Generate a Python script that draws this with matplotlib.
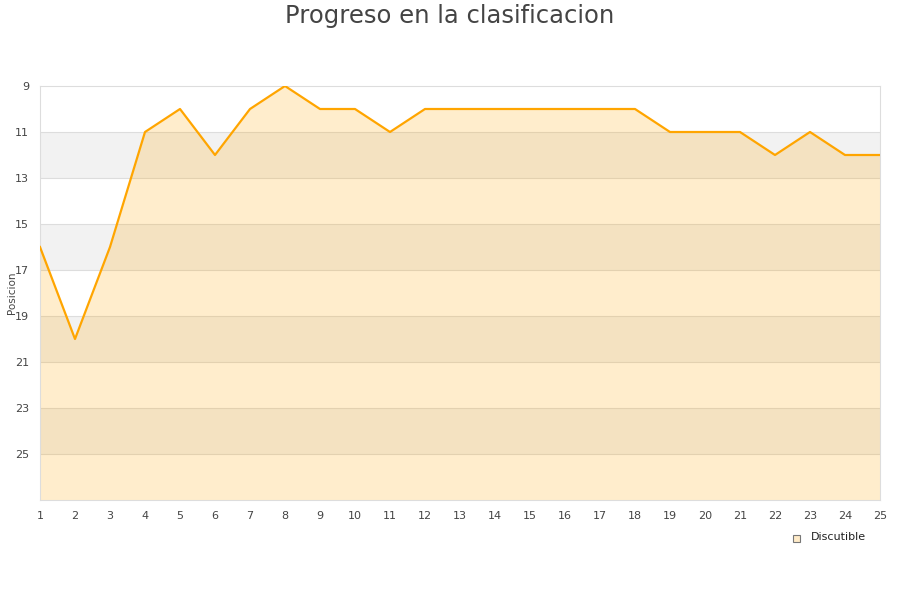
import matplotlib.pyplot as plt

jornadas = list(range(1, 26))
posicion = [16, 20, 16, 11, 10, 12, 10, 9, 10, 10, 11, 10, 10, 10, 10, 10, 10, 10, 11, 11, 11, 12, 11, 12, 12]
yticks = [9, 11, 13, 15, 17, 19, 21, 23, 25]

fig = plt.figure(figsize=(9, 6), dpi=100)
ax = fig.add_axes([40/900, 100/600, 840/900, 414/600])

# bandas alternas
for y0 in [11, 15, 19, 23]:
    ax.axhspan(y0, y0 + 2, color='#f2f2f2', zorder=0, lw=0)
for y in yticks[1:]:
    ax.axhline(y, color='#dddddd', lw=0.8, zorder=1)

ax.fill_between(jornadas, posicion, 27, color='#ffa500', alpha=0.2, lw=0, zorder=2)
ax.plot(jornadas, posicion, color='#ffa500', lw=1.6, zorder=3)

ax.set_xlim(1, 25)
ax.set_ylim(27, 9)
ax.set_xticks(jornadas)
ax.set_yticks(yticks)
ax.tick_params(length=0, labelsize=8, labelcolor='#444444', pad=8)
for s in ax.spines.values():
    s.set_color('#dddddd')
ax.set_ylabel('Posicion', fontsize=7.5, color='#444444')
ax.yaxis.set_label_coords(-23/840, 0.5)

fig.text(0.5, 1 - 16/600, 'Progreso en la clasificacion', ha='center', va='center',
         fontsize=17.5, color='#444444')

fig.patches.append(plt.Rectangle((793/900, 1 - 542/600), 7/900, 7/600,
                                 transform=fig.transFigure, facecolor='#ffebc8',
                                 edgecolor='#777777', lw=0.8))
fig.text(811/900, 1 - 537/600, 'Discutible', fontsize=8, va='center', color='#222222')

fig.savefig('out.png')
